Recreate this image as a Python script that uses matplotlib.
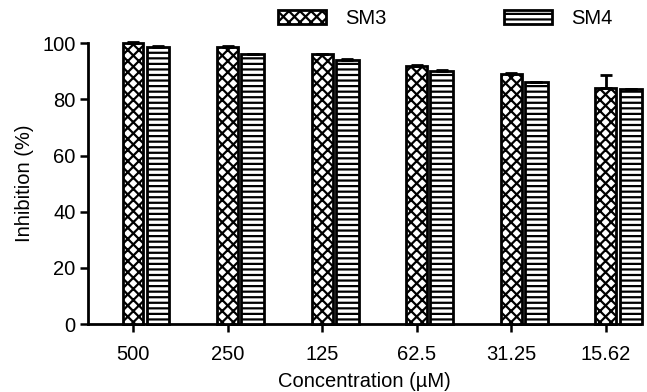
import matplotlib
matplotlib.use("Agg")
import matplotlib.pyplot as plt
import numpy as np
from matplotlib.patches import Patch

concentrations = ["500", "250", "125", "62.5", "31.25", "15.62"]
sm3 = [100, 98.5, 96, 92, 89, 84]
sm4 = [98.7, 96, 94, 90, 86, 83.5]
sm3_err = [0.3, 0.3, 0.3, 0.3, 0.3, 4.5]
sm4_err = [0.3, 0.3, 0.3, 0.3, 0.3, 0.3]

plt.rcParams['font.family'] = ['Liberation Sans', 'DejaVu Sans']
plt.rcParams['hatch.linewidth'] = 1.6
fs = 14.5

fig = plt.figure(figsize=(6.47, 3.92), dpi=100)
ax = fig.add_axes([0.136, 0.173, 0.853, 0.717])

x = np.arange(len(concentrations))
w3 = 0.22
w4 = 0.24
off = 0.265

ax.bar(x, sm3, width=w3, color='white', edgecolor='black', linewidth=2,
       hatch='xxx', clip_on=False, zorder=3)
ax.bar(x + off, sm4, width=w4, color='white', edgecolor='black', linewidth=2,
       hatch='---', clip_on=False, zorder=3)
ax.errorbar(x, sm3, yerr=[[0] * 6, sm3_err], fmt='none', ecolor='black',
            elinewidth=2, capsize=4, capthick=2, clip_on=False, zorder=4)
ax.errorbar(x + off, sm4, yerr=[[0] * 6, sm4_err], fmt='none', ecolor='black',
            elinewidth=2, capsize=4, capthick=2, clip_on=False, zorder=4)

ax.set_xlim(-0.476, 5.36)
ax.set_ylim(0, 100)
ax.set_xticks(x)
ax.set_xticklabels(concentrations)
ax.set_yticks([0, 20, 40, 60, 80, 100])
ax.tick_params(axis='both', direction='out', length=6, width=1.8, labelsize=fs)
ax.tick_params(axis='x', pad=9)
ax.tick_params(axis='y', pad=3)
for s in ['top', 'right']:
    ax.spines[s].set_visible(False)
for s in ['left', 'bottom']:
    ax.spines[s].set_linewidth(2)

ax.set_ylabel("Inhibition (%)", fontsize=fs, labelpad=6)
ax.set_xlabel("Concentration (\u00b5M)", fontsize=fs, labelpad=6)

handles = [Patch(facecolor='white', edgecolor='black', linewidth=2, hatch='xxx', label='SM3'),
           Patch(facecolor='white', edgecolor='black', linewidth=2, hatch='---', label='SM4')]
fig.legend(handles=handles, loc='center', bbox_to_anchor=(0.688, 0.952), ncol=2,
           frameon=False, fontsize=fs, handlelength=2.4, handleheight=0.7,
           columnspacing=5.8, handletextpad=0.95)

fig.savefig("out.png", dpi=100)
